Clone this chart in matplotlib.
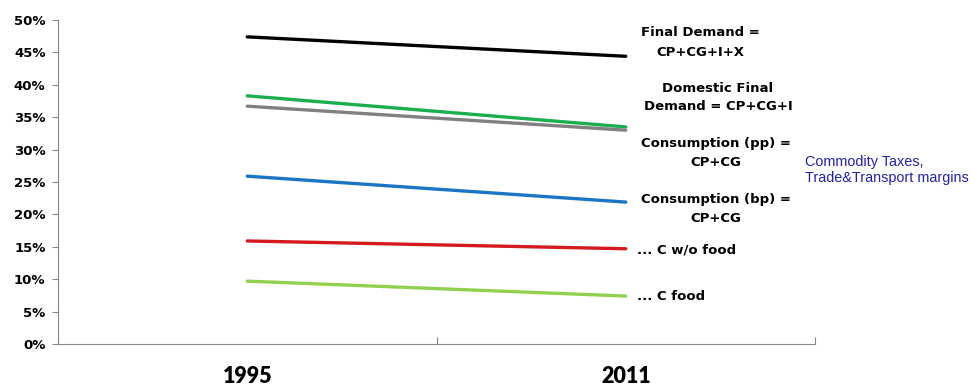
import matplotlib
matplotlib.use('Agg')
import matplotlib.pyplot as plt
from matplotlib.ticker import FuncFormatter

years = ['1995', '2011']
final_demand = [47.4, 44.4]
domestic_fd = [38.3, 33.5]
cons_pp = [36.7, 33.0]
cons_bp = [25.9, 21.9]
c_wo_food = [15.9, 14.7]
c_food = [9.7, 7.4]

series = [final_demand, domestic_fd, cons_pp, cons_bp, c_wo_food, c_food]
colors = ['#000000', '#1aae4e', '#808080', '#1a75c4', '#d41a1f', '#8fd14f']

plt.rcParams['font.family'] = ['DejaVu Sans']

fig = plt.figure(figsize=(9.75, 3.87), dpi=100)
ax = fig.add_axes([58/975, 1-344/387, (815-58)/975, (344-20)/387])

x = [0, 1]
for s, c in zip(series, colors):
    ax.plot(x, s, color=c, lw=2.4, solid_capstyle='round')

ax.set_xlim(-0.5, 1.5)
ax.set_ylim(0, 50)
ax.set_yticks(range(0, 51, 5))
ax.yaxis.set_major_formatter(FuncFormatter(lambda v, p: '%d%%' % v))
ax.set_xticks([-0.5, 0.5, 1.5])
ax.set_xticklabels([])
ax.set_xticks(x, minor=True)
ax.set_xticklabels(years, minor=True, fontsize=15.5, fontweight='heavy', family='Lato')
ax.tick_params(axis='x', which='minor', length=0, pad=16)
ax.tick_params(axis='x', which='major', length=5, color='#888888', direction='in')
ax.tick_params(axis='y', length=4, color='#888888', labelsize=9.5, pad=5)
for lbl in ax.get_yticklabels():
    lbl.set_fontweight('bold')
for sp in ['top', 'right']:
    ax.spines[sp].set_visible(False)
for sp in ['left', 'bottom']:
    ax.spines[sp].set_color('#888888')

tkw = dict(transform=fig.transFigure, fontsize=9.5, fontweight='bold', va='center', ha='center')
def fy(py):
    return 1 - py/387

fig.text(700/975, fy(33), 'Final Demand =', **tkw)
fig.text(700/975, fy(52), 'CP+CG+I+X', **tkw)
fig.text(718/975, fy(88), 'Domestic Final', **tkw)
fig.text(718/975, fy(107), 'Demand = CP+CG+I', **tkw)
fig.text(716/975, fy(143), 'Consumption (pp) =', **tkw)
fig.text(716/975, fy(162), 'CP+CG', **tkw)
fig.text(716/975, fy(200), 'Consumption (bp) =', **tkw)
fig.text(716/975, fy(219), 'CP+CG', **tkw)
fig.text(637/975, fy(250), '... C w/o food', transform=fig.transFigure, fontsize=9.5,
         fontweight='bold', va='center', ha='left')
fig.text(637/975, fy(297), '... C food', transform=fig.transFigure, fontsize=9.5,
         fontweight='bold', va='center', ha='left')
fig.text(805/975, fy(170), 'Commodity Taxes,\nTrade&Transport margins', transform=fig.transFigure,
         fontsize=10.4, color='#2222aa', va='center', ha='left', family='Liberation Sans',
         linespacing=1.1)

fig.savefig('out.png', dpi=100)
